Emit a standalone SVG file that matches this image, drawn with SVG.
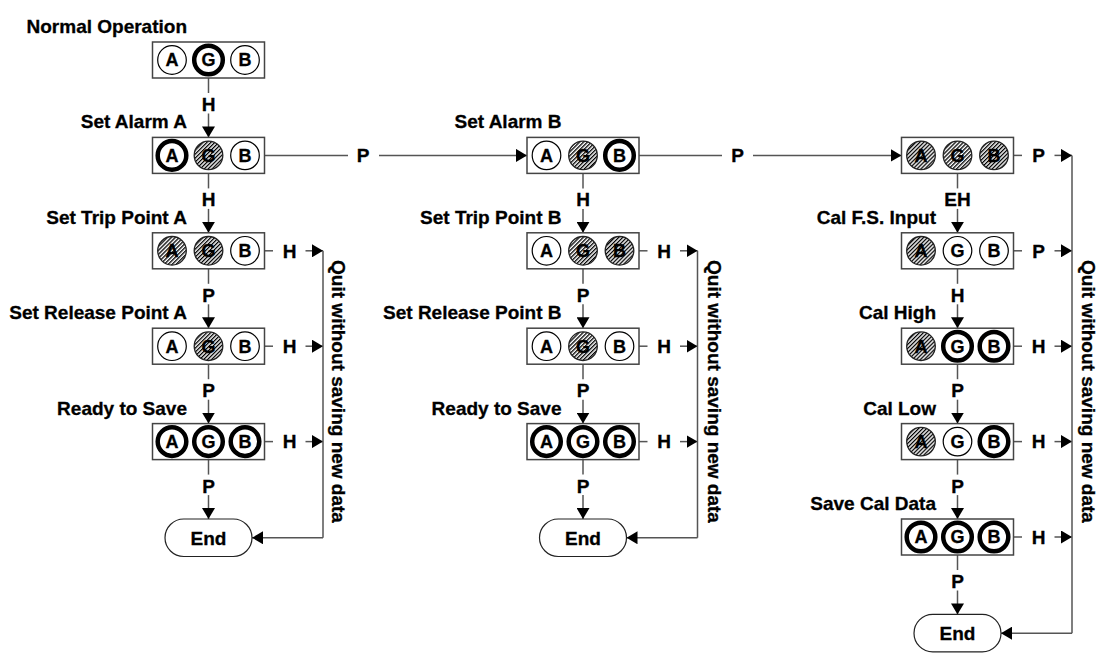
<svg xmlns="http://www.w3.org/2000/svg" width="1103" height="659" viewBox="0 0 1103 659">
<style>
.lbl{font-family:"Liberation Sans",Arial,sans-serif;font-weight:bold;font-size:19px;fill:#000;stroke:#000;stroke-width:0.3}
.e{text-anchor:end}
.m{text-anchor:middle}
.box{fill:#fff;stroke:#444;stroke-width:1.5}
.pill{fill:#fff;stroke:#222;stroke-width:1.2}
.c{fill:#fff;stroke:#000;stroke-width:1.2}
.ck{fill:#fff;stroke:#000;stroke-width:4.5}
.ch{fill:url(#hatch);stroke:#222;stroke-width:1.3}
.cl{font-family:"Liberation Sans",Arial,sans-serif;font-weight:bold;font-size:18px;fill:#000;text-anchor:middle;stroke:#000;stroke-width:0.3}
.ln{stroke:#555;stroke-width:1.5;fill:none}
.ar{marker-end:url(#ah)}
</style>
<defs>
<pattern id="hatch" patternUnits="userSpaceOnUse" width="2.8" height="2.8" patternTransform="rotate(45)">
<rect width="2.8" height="2.8" fill="#fff"/>
<line x1="0.65" y1="0" x2="0.65" y2="2.8" stroke="#000" stroke-width="1.3"/>
</pattern>
<marker id="ah" viewBox="0 0 11 13" refX="11" refY="6.5" markerWidth="11" markerHeight="13" markerUnits="userSpaceOnUse" orient="auto">
<path d="M0,0 L11,6.5 L0,13 z" fill="#000"/>
</marker>
</defs>

<g id="connectors">
<line class="ln" x1="208.5" y1="78" x2="208.5" y2="93"/><text class="lbl m" x="208.5" y="111">H</text><line class="ln ar" x1="208.5" y1="113.5" x2="208.5" y2="137.4"/>
<line class="ln" x1="208.5" y1="173.4" x2="208.5" y2="188.4"/><text class="lbl m" x="208.5" y="206.4">H</text><line class="ln ar" x1="208.5" y1="208.9" x2="208.5" y2="232.8"/>
<line class="ln" x1="208.5" y1="268.8" x2="208.5" y2="283.8"/><text class="lbl m" x="208.5" y="301.8">P</text><line class="ln ar" x1="208.5" y1="304.3" x2="208.5" y2="328.2"/>
<line class="ln" x1="208.5" y1="364.2" x2="208.5" y2="379.2"/><text class="lbl m" x="208.5" y="397.2">P</text><line class="ln ar" x1="208.5" y1="399.7" x2="208.5" y2="423.6"/>
<line class="ln" x1="208.5" y1="459.6" x2="208.5" y2="474.6"/><text class="lbl m" x="208.5" y="492.6">P</text><line class="ln ar" x1="208.5" y1="495.1" x2="208.5" y2="519"/>
<line class="ln" x1="264.5" y1="250.8" x2="273" y2="250.8"/><text class="lbl m" x="289.5" y="257.6">H</text><line class="ln ar" x1="305.5" y1="250.8" x2="323" y2="250.8"/>
<line class="ln" x1="264.5" y1="346.2" x2="273" y2="346.2"/><text class="lbl m" x="289.5" y="353">H</text><line class="ln ar" x1="305.5" y1="346.2" x2="323" y2="346.2"/>
<line class="ln" x1="264.5" y1="441.6" x2="273" y2="441.6"/><text class="lbl m" x="289.5" y="448.4">H</text><line class="ln ar" x1="305.5" y1="441.6" x2="323" y2="441.6"/>
<line class="ln" x1="323" y1="250.8" x2="323" y2="537.75"/>
<line class="ln ar" x1="323" y1="537.75" x2="252" y2="537.75"/>
<text class="lbl m" transform="translate(332,391.5) rotate(90)">Quit without saving new data</text>
<line class="ln" x1="264.5" y1="155.4" x2="348" y2="155.4"/><text class="lbl m" x="363" y="162.2">P</text><line class="ln ar" x1="379" y1="155.4" x2="527" y2="155.4"/>
<line class="ln" x1="639" y1="155.4" x2="722" y2="155.4"/><text class="lbl m" x="737.5" y="162.2">P</text><line class="ln ar" x1="753" y1="155.4" x2="901.5" y2="155.4"/>
<line class="ln" x1="583" y1="173.4" x2="583" y2="188.4"/><text class="lbl m" x="583" y="206.4">H</text><line class="ln ar" x1="583" y1="208.9" x2="583" y2="232.8"/>
<line class="ln" x1="583" y1="268.8" x2="583" y2="283.8"/><text class="lbl m" x="583" y="301.8">P</text><line class="ln ar" x1="583" y1="304.3" x2="583" y2="328.2"/>
<line class="ln" x1="583" y1="364.2" x2="583" y2="379.2"/><text class="lbl m" x="583" y="397.2">P</text><line class="ln ar" x1="583" y1="399.7" x2="583" y2="423.6"/>
<line class="ln" x1="583" y1="459.6" x2="583" y2="474.6"/><text class="lbl m" x="583" y="492.6">P</text><line class="ln ar" x1="583" y1="495.1" x2="583" y2="519"/>
<line class="ln" x1="639" y1="250.8" x2="647.5" y2="250.8"/><text class="lbl m" x="664" y="257.6">H</text><line class="ln ar" x1="680" y1="250.8" x2="697.5" y2="250.8"/>
<line class="ln" x1="639" y1="346.2" x2="647.5" y2="346.2"/><text class="lbl m" x="664" y="353">H</text><line class="ln ar" x1="680" y1="346.2" x2="697.5" y2="346.2"/>
<line class="ln" x1="639" y1="441.6" x2="647.5" y2="441.6"/><text class="lbl m" x="664" y="448.4">H</text><line class="ln ar" x1="680" y1="441.6" x2="697.5" y2="441.6"/>
<line class="ln" x1="697.5" y1="250.8" x2="697.5" y2="537.75"/>
<line class="ln ar" x1="697.5" y1="537.75" x2="626.5" y2="537.75"/>
<text class="lbl m" transform="translate(708,391.5) rotate(90)">Quit without saving new data</text>
<line class="ln" x1="957.5" y1="173.4" x2="957.5" y2="188.4"/><text class="lbl m" x="957.5" y="206.4">EH</text><line class="ln ar" x1="957.5" y1="208.9" x2="957.5" y2="232.8"/>
<line class="ln" x1="957.5" y1="268.8" x2="957.5" y2="283.8"/><text class="lbl m" x="957.5" y="301.8">H</text><line class="ln ar" x1="957.5" y1="304.3" x2="957.5" y2="328.2"/>
<line class="ln" x1="957.5" y1="364.2" x2="957.5" y2="379.2"/><text class="lbl m" x="957.5" y="397.2">P</text><line class="ln ar" x1="957.5" y1="399.7" x2="957.5" y2="423.6"/>
<line class="ln" x1="957.5" y1="459.6" x2="957.5" y2="474.6"/><text class="lbl m" x="957.5" y="492.6">P</text><line class="ln ar" x1="957.5" y1="495.1" x2="957.5" y2="519"/>
<line class="ln" x1="957.5" y1="555" x2="957.5" y2="570"/><text class="lbl m" x="957.5" y="588">P</text><line class="ln ar" x1="957.5" y1="590.5" x2="957.5" y2="614.4"/>
<line class="ln" x1="1013.5" y1="155.4" x2="1022" y2="155.4"/><text class="lbl m" x="1038.5" y="162.2">P</text><line class="ln ar" x1="1054.5" y1="155.4" x2="1072" y2="155.4"/>
<line class="ln" x1="1013.5" y1="250.8" x2="1022" y2="250.8"/><text class="lbl m" x="1038.5" y="257.6">P</text><line class="ln ar" x1="1054.5" y1="250.8" x2="1072" y2="250.8"/>
<line class="ln" x1="1013.5" y1="346.2" x2="1022" y2="346.2"/><text class="lbl m" x="1038.5" y="353">H</text><line class="ln ar" x1="1054.5" y1="346.2" x2="1072" y2="346.2"/>
<line class="ln" x1="1013.5" y1="441.6" x2="1022" y2="441.6"/><text class="lbl m" x="1038.5" y="448.4">H</text><line class="ln ar" x1="1054.5" y1="441.6" x2="1072" y2="441.6"/>
<line class="ln" x1="1013.5" y1="537" x2="1022" y2="537"/><text class="lbl m" x="1038.5" y="543.8">H</text><line class="ln ar" x1="1054.5" y1="537" x2="1072" y2="537"/>
<line class="ln" x1="1072" y1="155.4" x2="1072" y2="633.15"/>
<line class="ln ar" x1="1072" y1="633.15" x2="1001" y2="633.15"/>
<text class="lbl m" transform="translate(1082,391.5) rotate(90)">Quit without saving new data</text>
</g>

<g id="normal-operation">
<text class="lbl e" x="187" y="33">Normal Operation</text>
<rect class="box" x="152.5" y="42" width="112" height="36"/>
<circle class="c" cx="172" cy="60" r="14.3"/><text class="cl" x="172" y="66.4">A</text>
<circle class="ck" cx="208.5" cy="60" r="14.3"/><text class="cl" x="208.5" y="66.4">G</text>
<circle class="c" cx="245" cy="60" r="14.3"/><text class="cl" x="245" y="66.4">B</text>
</g>
<g id="set-alarm-a">
<text class="lbl e" x="187" y="128.4">Set Alarm A</text>
<rect class="box" x="152.5" y="137.4" width="112" height="36"/>
<circle class="ck" cx="172" cy="155.4" r="14.3"/><text class="cl" x="172" y="161.8">A</text>
<circle class="ch" cx="208.5" cy="155.4" r="14.3"/><text class="cl" x="208.5" y="161.8">G</text>
<circle class="c" cx="245" cy="155.4" r="14.3"/><text class="cl" x="245" y="161.8">B</text>
</g>
<g id="set-trip-point-a">
<text class="lbl e" x="187" y="223.8">Set Trip Point A</text>
<rect class="box" x="152.5" y="232.8" width="112" height="36"/>
<circle class="ch" cx="172" cy="250.8" r="14.3"/><text class="cl" x="172" y="257.2">A</text>
<circle class="ch" cx="208.5" cy="250.8" r="14.3"/><text class="cl" x="208.5" y="257.2">G</text>
<circle class="c" cx="245" cy="250.8" r="14.3"/><text class="cl" x="245" y="257.2">B</text>
</g>
<g id="set-release-point-a">
<text class="lbl e" x="187" y="319.2">Set Release Point A</text>
<rect class="box" x="152.5" y="328.2" width="112" height="36"/>
<circle class="c" cx="172" cy="346.2" r="14.3"/><text class="cl" x="172" y="352.6">A</text>
<circle class="ch" cx="208.5" cy="346.2" r="14.3"/><text class="cl" x="208.5" y="352.6">G</text>
<circle class="c" cx="245" cy="346.2" r="14.3"/><text class="cl" x="245" y="352.6">B</text>
</g>
<g id="ready-to-save-a">
<text class="lbl e" x="187" y="414.6">Ready to Save</text>
<rect class="box" x="152.5" y="423.6" width="112" height="36"/>
<circle class="ck" cx="172" cy="441.6" r="14.3"/><text class="cl" x="172" y="448">A</text>
<circle class="ck" cx="208.5" cy="441.6" r="14.3"/><text class="cl" x="208.5" y="448">G</text>
<circle class="ck" cx="245" cy="441.6" r="14.3"/><text class="cl" x="245" y="448">B</text>
</g>
<g id="end-a">
<rect class="pill" x="165" y="519" width="87" height="37.5" rx="18.75"/>
<text class="lbl m" x="208.5" y="544.5">End</text>
</g>

<g id="set-alarm-b">
<text class="lbl e" x="561.5" y="128.4">Set Alarm B</text>
<rect class="box" x="527" y="137.4" width="112" height="36"/>
<circle class="c" cx="546.5" cy="155.4" r="14.3"/><text class="cl" x="546.5" y="161.8">A</text>
<circle class="ch" cx="583" cy="155.4" r="14.3"/><text class="cl" x="583" y="161.8">G</text>
<circle class="ck" cx="619.5" cy="155.4" r="14.3"/><text class="cl" x="619.5" y="161.8">B</text>
</g>
<g id="set-trip-point-b">
<text class="lbl e" x="561.5" y="223.8">Set Trip Point B</text>
<rect class="box" x="527" y="232.8" width="112" height="36"/>
<circle class="c" cx="546.5" cy="250.8" r="14.3"/><text class="cl" x="546.5" y="257.2">A</text>
<circle class="ch" cx="583" cy="250.8" r="14.3"/><text class="cl" x="583" y="257.2">G</text>
<circle class="ch" cx="619.5" cy="250.8" r="14.3"/><text class="cl" x="619.5" y="257.2">B</text>
</g>
<g id="set-release-point-b">
<text class="lbl e" x="561.5" y="319.2">Set Release Point B</text>
<rect class="box" x="527" y="328.2" width="112" height="36"/>
<circle class="c" cx="546.5" cy="346.2" r="14.3"/><text class="cl" x="546.5" y="352.6">A</text>
<circle class="ch" cx="583" cy="346.2" r="14.3"/><text class="cl" x="583" y="352.6">G</text>
<circle class="c" cx="619.5" cy="346.2" r="14.3"/><text class="cl" x="619.5" y="352.6">B</text>
</g>
<g id="ready-to-save-b">
<text class="lbl e" x="561.5" y="414.6">Ready to Save</text>
<rect class="box" x="527" y="423.6" width="112" height="36"/>
<circle class="ck" cx="546.5" cy="441.6" r="14.3"/><text class="cl" x="546.5" y="448">A</text>
<circle class="ck" cx="583" cy="441.6" r="14.3"/><text class="cl" x="583" y="448">G</text>
<circle class="ck" cx="619.5" cy="441.6" r="14.3"/><text class="cl" x="619.5" y="448">B</text>
</g>
<g id="end-b">
<rect class="pill" x="539.5" y="519" width="87" height="37.5" rx="18.75"/>
<text class="lbl m" x="583" y="544.5">End</text>
</g>

<g id="cal-mode">
<rect class="box" x="901.5" y="137.4" width="112" height="36"/>
<circle class="ch" cx="921" cy="155.4" r="14.3"/><text class="cl" x="921" y="161.8">A</text>
<circle class="ch" cx="957.5" cy="155.4" r="14.3"/><text class="cl" x="957.5" y="161.8">G</text>
<circle class="ch" cx="994" cy="155.4" r="14.3"/><text class="cl" x="994" y="161.8">B</text>
</g>
<g id="cal-fs-input">
<text class="lbl e" x="936" y="223.8">Cal F.S. Input</text>
<rect class="box" x="901.5" y="232.8" width="112" height="36"/>
<circle class="ch" cx="921" cy="250.8" r="14.3"/><text class="cl" x="921" y="257.2">A</text>
<circle class="c" cx="957.5" cy="250.8" r="14.3"/><text class="cl" x="957.5" y="257.2">G</text>
<circle class="c" cx="994" cy="250.8" r="14.3"/><text class="cl" x="994" y="257.2">B</text>
</g>
<g id="cal-high">
<text class="lbl e" x="936" y="319.2">Cal High</text>
<rect class="box" x="901.5" y="328.2" width="112" height="36"/>
<circle class="ch" cx="921" cy="346.2" r="14.3"/><text class="cl" x="921" y="352.6">A</text>
<circle class="ck" cx="957.5" cy="346.2" r="14.3"/><text class="cl" x="957.5" y="352.6">G</text>
<circle class="ck" cx="994" cy="346.2" r="14.3"/><text class="cl" x="994" y="352.6">B</text>
</g>
<g id="cal-low">
<text class="lbl e" x="936" y="414.6">Cal Low</text>
<rect class="box" x="901.5" y="423.6" width="112" height="36"/>
<circle class="ch" cx="921" cy="441.6" r="14.3"/><text class="cl" x="921" y="448">A</text>
<circle class="c" cx="957.5" cy="441.6" r="14.3"/><text class="cl" x="957.5" y="448">G</text>
<circle class="ck" cx="994" cy="441.6" r="14.3"/><text class="cl" x="994" y="448">B</text>
</g>
<g id="save-cal-data">
<text class="lbl e" x="936" y="510">Save Cal Data</text>
<rect class="box" x="901.5" y="519" width="112" height="36"/>
<circle class="ck" cx="921" cy="537" r="14.3"/><text class="cl" x="921" y="543.4">A</text>
<circle class="ck" cx="957.5" cy="537" r="14.3"/><text class="cl" x="957.5" y="543.4">G</text>
<circle class="ck" cx="994" cy="537" r="14.3"/><text class="cl" x="994" y="543.4">B</text>
</g>
<g id="end-c">
<rect class="pill" x="914" y="614.4" width="87" height="37.5" rx="18.75"/>
<text class="lbl m" x="957.5" y="639.9">End</text>
</g>
</svg>
